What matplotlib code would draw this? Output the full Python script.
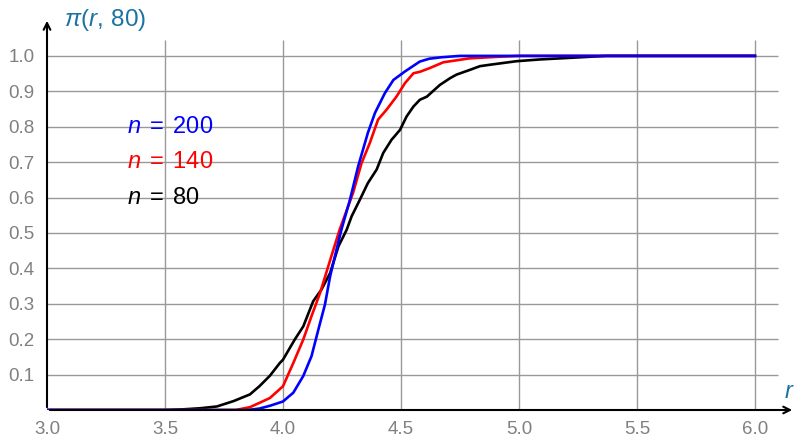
import numpy as np
import matplotlib
matplotlib.use("Agg")
import matplotlib.pyplot as plt

plt.rcParams['font.family'] = ['Liberation Sans', 'DejaVu Sans']
plt.rcParams['mathtext.fontset'] = 'custom'
plt.rcParams['mathtext.rm'] = 'Liberation Sans'
plt.rcParams['mathtext.it'] = 'Liberation Sans:italic'

# data
r_blue = [3.0, 3.85, 3.9, 3.945, 4.0, 4.044, 4.086, 4.121, 4.15, 4.178, 4.2, 4.227, 4.248,
          4.284, 4.319, 4.36, 4.39, 4.432, 4.468, 4.517, 4.58, 4.62, 4.67, 4.75, 6.0]
y_blue = [0, 0, 0.004, 0.012, 0.024, 0.049, 0.096, 0.152, 0.227, 0.298, 0.378, 0.453, 0.51,
          0.594, 0.689, 0.783, 0.839, 0.895, 0.932, 0.956, 0.984, 0.992, 0.996, 1.0, 1.0]

r_red = [3.0, 3.8, 3.86, 3.9, 3.945, 4.0, 4.044, 4.086, 4.121, 4.157, 4.192, 4.24, 4.297,
         4.333, 4.368, 4.403, 4.439, 4.481, 4.517, 4.553, 4.58, 4.62, 4.68, 4.79, 4.9, 5.0, 6.0]
y_red = [0, 0, 0.008, 0.02, 0.034, 0.067, 0.133, 0.199, 0.265, 0.33, 0.406, 0.509, 0.613,
         0.697, 0.754, 0.82, 0.848, 0.885, 0.923, 0.951, 0.955, 0.965, 0.982, 0.993, 0.997, 1.0, 1.0]

r_black = [3.0, 3.5, 3.58, 3.65, 3.72, 3.79, 3.86, 3.90, 3.945, 3.987, 4.0, 4.05, 4.086,
           4.128, 4.163, 4.2, 4.235, 4.27, 4.291, 4.326, 4.36, 4.397, 4.425, 4.46, 4.496,
           4.524, 4.553, 4.58, 4.61, 4.665, 4.708, 4.735, 4.79, 4.835, 4.877, 4.99, 5.09,
           5.23, 5.37, 6.0]
y_black = [0, 0, 0.002, 0.005, 0.01, 0.025, 0.044, 0.067, 0.097, 0.133, 0.142, 0.199, 0.236,
           0.307, 0.34, 0.387, 0.462, 0.509, 0.547, 0.594, 0.641, 0.679, 0.726, 0.763, 0.791,
           0.829, 0.857, 0.876, 0.885, 0.918, 0.937, 0.947, 0.96, 0.971, 0.975, 0.985, 0.99,
           0.995, 1.0, 1.0]

x_ticks = [3.0, 3.5, 4.0, 4.5, 5.0, 5.5, 6.0]
y_ticks = [0.1, 0.2, 0.3, 0.4, 0.5, 0.6, 0.7, 0.8, 0.9, 1.0]
labels = [r'$n\;=\;200$', r'$n\;=\;140$', r'$n\;=\;80$']
colors = ['#0000ff', '#ff0000', '#000000']

fig = plt.figure(figsize=(8.02, 4.38), dpi=100)
ax = fig.add_axes([47/802, 28/438, 748/802, 392/438])
ax.set_xlim(3.0, 6.17)
ax.set_ylim(0, 1.107)
for s in ax.spines.values():
    s.set_visible(False)

# grid
ax.vlines(x_ticks[1:], 0, 1.045, color='#999999', lw=1.0, zorder=1)
ax.hlines(y_ticks, 3.0, 6.1, color='#999999', lw=1.0, zorder=1)

ax.plot(r_black, y_black, color=colors[2], lw=1.9, zorder=3)
ax.plot(r_red, y_red, color=colors[1], lw=1.9, zorder=4)
ax.plot(r_blue, y_blue, color=colors[0], lw=1.9, zorder=5)

# axes with arrows
ax.annotate('', xy=(6.17, 0), xytext=(3.0, 0),
            arrowprops=dict(arrowstyle='->', lw=1.5, color='k', mutation_scale=12),
            annotation_clip=False, zorder=6)
ax.annotate('', xy=(3.0, 1.107), xytext=(3.0, 0),
            arrowprops=dict(arrowstyle='->', lw=1.5, color='k', mutation_scale=12),
            annotation_clip=False, zorder=6)

ax.set_xticks(x_ticks)
ax.set_xticklabels([f'{v:.1f}' for v in x_ticks])
ax.set_yticks(y_ticks)
ax.set_yticklabels([f'{v:.1f}' for v in y_ticks])
ax.tick_params(length=0, colors='#808080', labelsize=13.5)
ax.tick_params(axis='x', pad=8)
ax.tick_params(axis='y', pad=9)

ax.text(3.072, 1.10, r'$\pi(r,\,80)$', color='#1a73a0', fontsize=17.5,
        ha='left', va='center', clip_on=False)
ax.text(6.148, 0.05, r'$r$', color='#1a73a0', fontsize=17,
        ha='center', va='center', clip_on=False)

for lab, c, yy in zip(labels, colors, [0.8, 0.7, 0.6]):
    ax.text(3.34, yy, lab, color=c, fontsize=17, ha='left', va='center')

fig.savefig('out.png', dpi=100)
